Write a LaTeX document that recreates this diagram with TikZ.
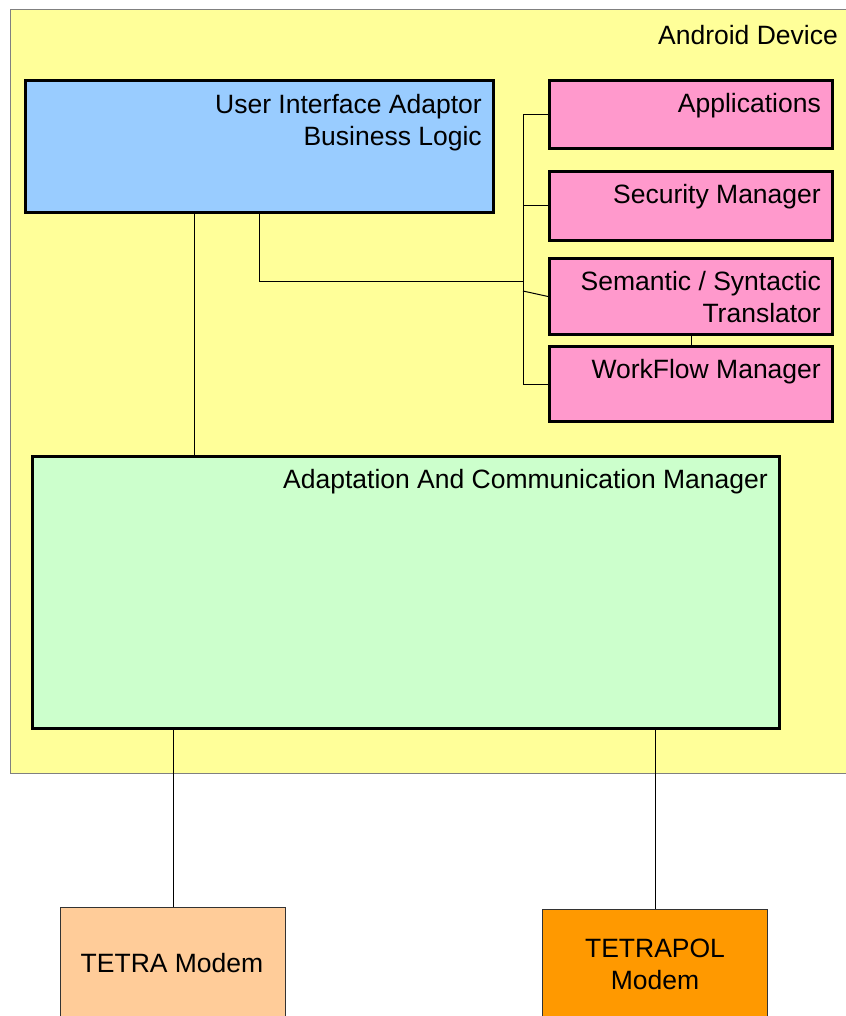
\documentclass[tikz,border=0pt]{standalone}
\usepackage{fontspec}
\setmainfont{Liberation Sans}
\usetikzlibrary{positioning}
\definecolor{deviceYellow}{HTML}{FFFF99}
\definecolor{uiBlue}{HTML}{99CCFF}
\definecolor{modPink}{HTML}{FF99CC}
\definecolor{acmGreen}{HTML}{CCFFCC}
\definecolor{tetraPeach}{HTML}{FFCC99}
\definecolor{polOrange}{HTML}{FF9900}
\newcommand\pinkLeft{548}
\newcommand\pinkWidth{283}
\newcommand\busX{523}
\newcommand\textPad{13}

\begin{document}
\begin{tikzpicture}[x=1pt, y=-1pt,
    font=\fontsize{26.5}{32}\selectfont,
    box/.style={draw=black, line width=3pt, inner sep=0pt, anchor=north west},
    modembox/.style={draw=black!80, line width=1pt, inner sep=0pt, anchor=north west},
    wire/.style={draw=black, line width=1pt},
    caption/.style={anchor=north east, align=right, inner sep=0pt}]
    \useasboundingbox (0,0) rectangle (845,1016);

    %% device frame
    \node[draw=black!50, fill=deviceYellow, line width=1pt, inner sep=0pt, anchor=north west,
      minimum width=860pt, minimum height=764pt] (device) at (10,9) {};
    \node[caption] (deviceTxt) at (838,25) {Android Device};

    %% user interface
    \node[box, fill=uiBlue, minimum width=468pt, minimum height=132pt] (ui) at (24,79) {};
    \node[caption] (uiTxt) at ([xshift=-\textPad, yshift=-15]ui.north east) {User Interface Adaptor\\Business Logic};

    %% pink modules
    \foreach \top/\high/\name/\txt in {79/68/app/Applications, 170/69/sec/Security Manager,
        257/76/sem/{Semantic / Syntactic\\Translator}, 345/75/wf/WorkFlow Manager}{
      \node[box, fill=modPink, minimum width=\pinkWidth pt, minimum height=\high pt] (\name) at (\pinkLeft,\top) {};
      \node[caption] (\name Txt) at ([xshift=-\textPad, yshift=-14]\name.north east) {\txt};
    }

    %% adaptation manager
    \node[box, fill=acmGreen, minimum width=747pt, minimum height=272pt] (acm) at (31,455) {};
    \node[caption] (acmTxt) at ([xshift=-\textPad, yshift=-14]acm.north east) {Adaptation And Communication Manager};

    %% modems
    \node[modembox, fill=tetraPeach, minimum width=225pt, minimum height=140pt] (tetra) at (60,907) {};
    \node[anchor=base] (tetraTxt) at (172,972) {TETRA Modem};
    \node[modembox, fill=polOrange, minimum width=225pt, minimum height=140pt] (tetrapol) at (542,909) {};
    \node[align=center, anchor=north] (tetrapolTxt) at (655,935) {TETRAPOL\\Modem};

    %% bus to the right column
    \coordinate (bus) at (\busX,0);
    \coordinate (busJoin) at (\busX,281);
    \coordinate (semJoin) at (\busX,291);
    \coordinate (uiDrop) at (194,0);
    \draw[wire] (app.west) -- (app.west -| bus) -- (wf.west -| bus) -- (wf.west);
    \draw[wire] (sec.west) -- (sec.west -| bus);
    \draw[wire] (sem.west) -- (semJoin);
    \draw[wire] (ui.south) |- (busJoin);
    \draw[wire] (sem.south) -- (wf.north);
    \draw[wire] (ui.south -| uiDrop) -- (acm.north -| uiDrop);

    %% modem links
    \draw[wire] (tetra.north) -- (tetra.north |- acm.south);
    \draw[wire] (tetrapol.north) -- (tetrapol.north |- acm.south);
  \end{tikzpicture}
\end{document}
